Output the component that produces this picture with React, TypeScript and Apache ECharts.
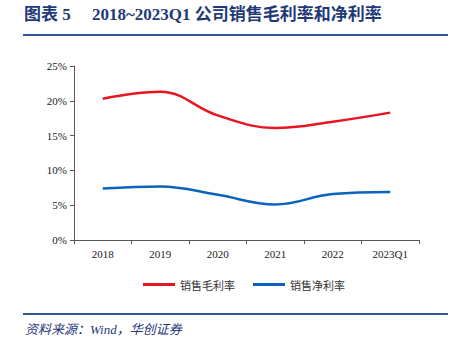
import React, { useEffect, useRef } from "react";
import * as echarts from "echarts";

const categories = ["2018", "2019", "2020", "2021", "2022", "2023Q1"];
const grossMargin = [20.3, 21.3, 17.9, 16.1, 17.0, 18.3];
const netMargin = [7.4, 7.7, 6.5, 5.1, 6.6, 6.9];
const yTicks = [0, 5, 10, 15, 20, 25];
const seriesNames = ["销售毛利率", "销售净利率"];

const titleText = "图表 5     2018~2023Q1 公司销售毛利率和净利率";
const sourceText = "资料来源：Wind，华创证券";

export default function App() {
  const ref = useRef<HTMLDivElement>(null);
  useEffect(() => {
    if (!ref.current) return;
    const chart = echarts.init(ref.current, undefined, { renderer: "svg" });
    const serif = "'Times New Roman', 'Liberation Serif', 'Noto Sans CJK SC', serif";
    chart.setOption({
      animation: false,
      backgroundColor: "#ffffff",
      grid: { left: 74, right: 36, top: 66, bottom: 104, containLabel: false },
      legend: {
        left: 138,
        top: 274,
        itemWidth: 32,
        itemHeight: 3,
        itemGap: 18,
        icon: "rect",
        textStyle: { fontSize: 11, color: "#333", fontFamily: "'Noto Sans CJK SC', sans-serif" },
        data: seriesNames,
      },
      xAxis: {
        type: "category",
        data: categories,
        boundaryGap: true,
        axisLine: { lineStyle: { color: "#595959", width: 1 } },
        axisTick: { show: true, length: 4, lineStyle: { color: "#595959" } },
        axisLabel: { fontSize: 11, color: "#222", fontFamily: serif, margin: 8 },
      },
      yAxis: {
        type: "value",
        min: yTicks[0],
        max: yTicks[yTicks.length - 1],
        interval: 5,
        splitLine: { show: false },
        axisLine: { show: true, lineStyle: { color: "#595959", width: 1 } },
        axisTick: { show: true, length: 4, lineStyle: { color: "#595959" } },
        axisLabel: { fontSize: 11, color: "#222", fontFamily: serif, margin: 7, formatter: "{value}%" },
      },
      series: [
        {
          name: seriesNames[0],
          type: "line",
          data: grossMargin,
          smooth: 0.4,
          symbol: "none",
          lineStyle: { color: "#E8141F", width: 2.5 },
          itemStyle: { color: "#E8141F" },
        },
        {
          name: seriesNames[1],
          type: "line",
          data: netMargin,
          smooth: 0.4,
          symbol: "none",
          lineStyle: { color: "#0A64BE", width: 2.5 },
          itemStyle: { color: "#0A64BE" },
        },
      ],
      graphic: [
        {
          type: "text",
          left: 24,
          top: 6,
          style: {
            text: titleText,
            fontSize: 17,
            fontWeight: "bold",
            fill: "#1F3A78",
            fontFamily: serif,
          },
        },
        {
          type: "line",
          shape: { x1: 23, y1: 35, x2: 448, y2: 35 },
          style: { stroke: "#2E5597", lineWidth: 2 },
        },
        {
          type: "line",
          shape: { x1: 23, y1: 314, x2: 448, y2: 314 },
          style: { stroke: "#2E5597", lineWidth: 2 },
        },
        {
          type: "text",
          left: 25,
          top: 323,
          style: {
            text: sourceText,
            fontSize: 13,
            fontStyle: "italic",
            fill: "#1F3A78",
            fontFamily: serif,
          },
        },
      ],
    });
    return () => chart.dispose();
  }, []);
  return (
    <div style={{ position: "fixed", left: 0, top: 0, width: 455, height: 344 }}>
      <div ref={ref} style={{ width: 455, height: 344 }} />
    </div>
  );
}
